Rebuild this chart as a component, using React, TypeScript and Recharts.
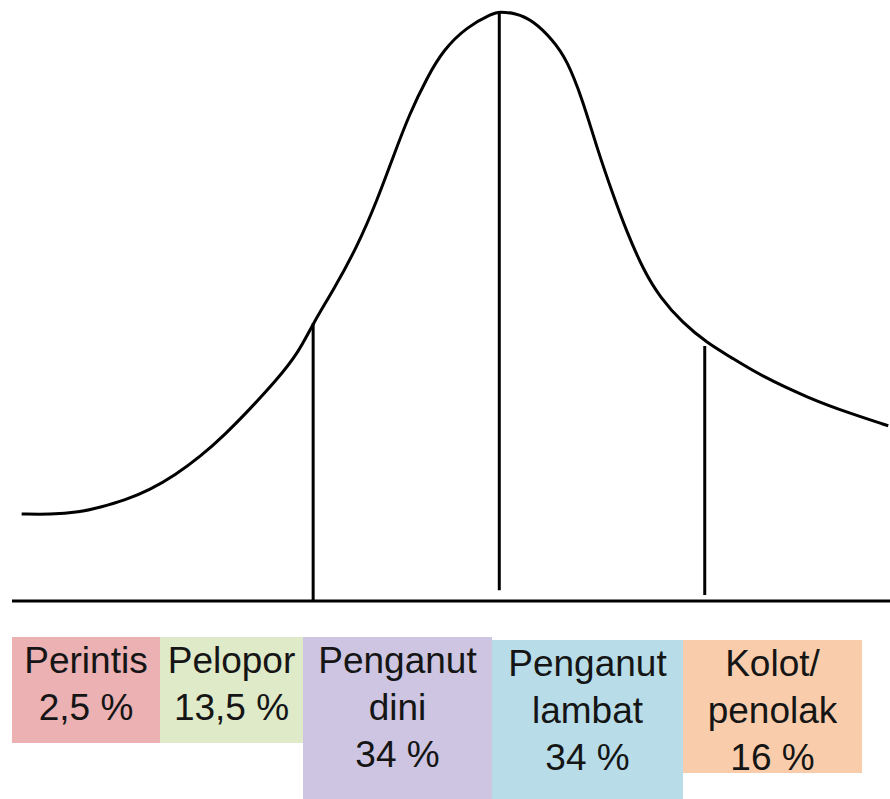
import { LineChart, Line, XAxis, YAxis, ReferenceLine } from 'recharts'

// curve: x = time (0–100), y = relative number of adopters
const curveX = [
  1.1, 4.3, 7.7, 10.0, 12.9, 15.7, 18.6, 21.4, 24.3, 27.1, 30.0, 32.6, 34.3, 36.6, 39.3, 41.6, 43.4, 45.3, 47.3,
  49.1, 51.8, 54.8, 55.5, 57.3, 59.3, 61.6, 63.2, 65.0, 66.6, 68.5, 70.0, 71.9, 73.8, 76.4, 79.2, 81.8, 85.2,
  90.9, 95.4, 99.8,
]
const curveY = [
  14.5, 14.4, 14.8, 15.6, 16.8, 18.5, 21.0, 24.0, 27.8, 32.0, 36.6, 41.3, 46.3, 51.8, 59.0, 66.8, 74.0, 81.3, 87.3,
  91.8, 95.7, 98.0, 98.2, 98.0, 96.8, 93.5, 90.2, 83.5, 75.6, 67.5, 61.6, 55.2, 50.6, 46.3, 43.0, 40.7, 37.6,
  33.7, 31.3, 29.2,
]

// vertical dividers between groups
const dividerX = [34.3, 55.5, 78.9]
const dividerTop = [46.3, 98.2, 42.5]
const dividerBottom = [0, 1.8, 1.0]

const categories = ['Perintis', 'Pelopor', 'Penganut dini', 'Penganut lambat', 'Kolot/ penolak']
const shares = [2.5, 13.5, 34, 34, 16]

const rows = curveX.map((x, i) => ({ x, y: curveY[i] }))

const fmtPct = (v: number) => String(v).replace('.', ',') + ' %'

const boxes = [
  { left: 12, top: 637, width: 148, height: 106, bg: '#ebb1b3', lines: [categories[0]] },
  { left: 160, top: 637, width: 143, height: 106, bg: '#dfeac9', lines: [categories[1]] },
  { left: 303, top: 637, width: 189, height: 162, bg: '#cdc5e1', lines: ['Penganut', 'dini'] },
  { left: 492, top: 640, width: 191, height: 159, bg: '#b8dde8', lines: ['Penganut', 'lambat'] },
  { left: 683, top: 640, width: 179, height: 133, bg: '#f9cdab', lines: ['Kolot/', 'penolak'] },
]

export default function App() {
  return (
    <div style={{ position: 'absolute', left: 0, top: 0, width: 890, height: 799, background: '#fff' }}>
      <LineChart width={890} height={610} data={rows} margin={{ top: 1, right: 0, left: 12, bottom: 9 }}>
        <XAxis dataKey="x" type="number" domain={[0, 100]} hide />
        <YAxis hide domain={[0, 100]} />
        <ReferenceLine y={0} stroke="#000" strokeWidth={3} ifOverflow="visible" />
        {dividerX.map((x, i) => (
          <ReferenceLine
            key={x}
            segment={[
              { x, y: dividerBottom[i] },
              { x, y: dividerTop[i] },
            ]}
            stroke="#000"
            strokeWidth={3}
          />
        ))}
        <Line
          type="basis"
          dataKey="y"
          stroke="#000"
          strokeWidth={3}
          dot={false}
          isAnimationActive={false}
        />
      </LineChart>
      {boxes.map((b, i) => (
        <div
          key={categories[i]}
          style={{
            position: 'absolute',
            left: b.left,
            top: b.top,
            width: b.width,
            height: b.height,
            background: b.bg,
            fontFamily: '"Liberation Sans", Arial, sans-serif',
            fontSize: 37,
            lineHeight: '47px',
            color: '#151515',
            textAlign: 'center',
            whiteSpace: 'nowrap',
          }}
        >
          {b.lines.map((l) => (
            <div key={l}>{l}</div>
          ))}
          <div>{fmtPct(shares[i])}</div>
        </div>
      ))}
    </div>
  )
}
